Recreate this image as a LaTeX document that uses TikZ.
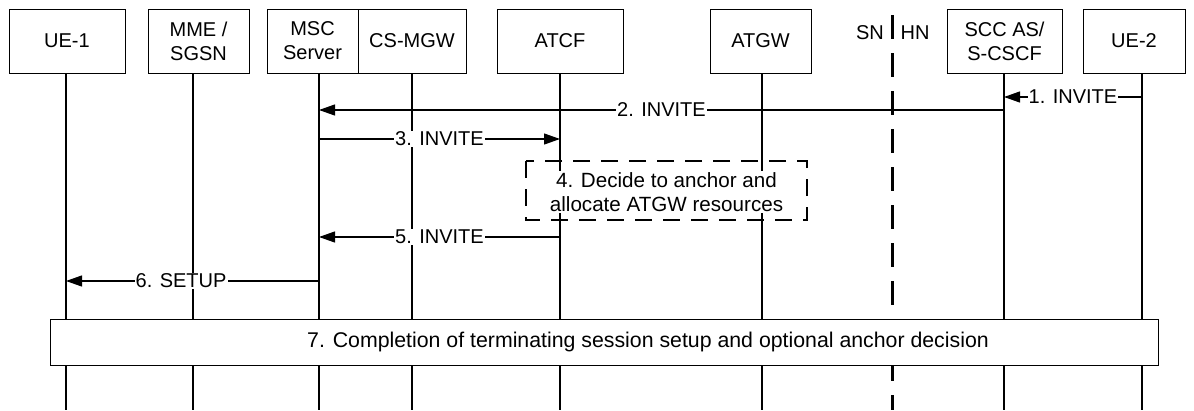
\documentclass[tikz,border=0pt]{standalone}
\usepackage{fontspec}
\setmainfont{Liberation Sans}
\usetikzlibrary{arrows.meta}
\begin{document}
\begin{tikzpicture}[x=1pt,y=-1pt,
  every node/.style={font=\fontsize{20}{24}\selectfont},
  ent/.style={draw, line width=1pt, inner sep=0pt, minimum height=64pt, align=center},
  life/.style={line width=1.2pt},
  msg/.style={line width=1.2pt, -{Triangle[length=16pt,width=11pt]}},
  lbl/.style={fill=white, inner sep=1pt},
  dashbox/.style={line width=2.8pt, dash pattern=on 17pt off 11pt},
  netline/.style={line width=3pt, dash pattern=on 24pt off 14pt},
  stepbox/.style={draw, fill=white, line width=1pt, inner sep=0pt},
]
\useasboundingbox (0,0) rectangle (1194,410);
\fill[white] (0,0) rectangle (1194,410);

% entities
\node[ent, minimum width=116pt] (ue1) at (67,41) {UE-1};
\node[ent, minimum width=101pt] (mme) at (198.5,41) {MME /\\SGSN};
\node[ent, minimum width=91pt] (msc) at (312.5,41) {MSC\\Server};
\node[ent, minimum width=108pt] (cs) at (412,41) {CS-MGW};
\node[ent, minimum width=126pt] (atcf) at (560,41) {ATCF};
\node[ent, minimum width=101pt] (atgw) at (760.5,41) {ATGW};
\node[ent, minimum width=115pt] (scc) at (1004.5,41) {SCC AS/\\S-CSCF};
\node[ent, minimum width=102pt] (ue2) at (1134,41) {UE-2};

% lifeline x positions
\coordinate (l-ue1) at (66,410);
\coordinate (l-mme) at (193,410);
\coordinate (l-msc) at (319,410);
\coordinate (l-cs) at (412,410);
\coordinate (l-atcf) at (560,410);
\coordinate (l-atgw) at (762,410);
\coordinate (l-scc) at (1004,410);
\coordinate (l-ue2) at (1142,410);

\foreach \e/\l in {ue1/l-ue1, mme/l-mme, msc/l-msc, cs/l-cs, atcf/l-atcf, atgw/l-atgw, scc/l-scc, ue2/l-ue2}
  \draw[life] (\l |- \e.south) -- (\l);

% SN / HN
\node (sn) at (870,33) {SN};
\node (hn) at (915,33) {HN};
\coordinate (net-top) at (892,15);
\coordinate (net-bot) at (892,410);
\draw[netline] (net-top) -- (net-bot);

% messages
\draw[msg] (l-ue2 |- 0,97) -- node[lbl] {1. INVITE} (l-scc |- 0,97);
\draw[msg] (l-scc |- 0,110) -- node[lbl] {2. INVITE} (l-msc |- 0,110);
\draw[msg] (l-msc |- 0,139) -- node[lbl] {3. INVITE} (l-atcf |- 0,139);
\draw[dashbox] (526,161) rectangle (807,220);
\node[lbl, align=center, font=\fontsize{20.6}{24}\selectfont] (t4) at (666.5,192) {4. Decide to anchor and\\allocate ATGW resources};
\draw[msg] (l-atcf |- 0,237) -- node[lbl] {5. INVITE} (l-msc |- 0,237);
\draw[msg] (l-msc |- 0,281) -- node[lbl, pos=0.545] {6. SETUP} (l-ue1 |- 0,281);

% step 7
\node[stepbox, minimum width=1108pt, minimum height=46pt] (b7) at (604,342) {};
\node[font=\fontsize{21.3}{25}\selectfont, inner sep=0pt] (t7) at (648,342) {7. Completion of terminating session setup and optional anchor decision};
\end{tikzpicture}
\end{document}
